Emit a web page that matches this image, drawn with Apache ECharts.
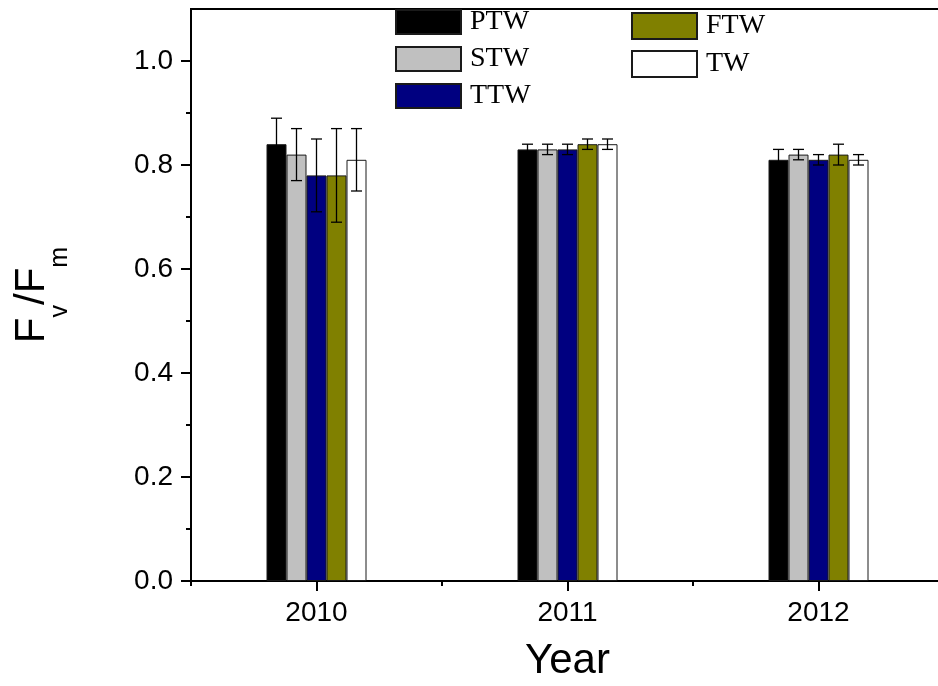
<!DOCTYPE html>
<html><head><meta charset="utf-8">
<script src="https://cdn.jsdelivr.net/npm/echarts@6/dist/echarts.min.js"></script>
<style>html,body{margin:0;padding:0;background:#fff}#c{width:938px;height:686px}</style>
</head><body><div id="c"></div>
<script>
// ---- data ----
const years = ['2010', '2011', '2012'];
const seriesNames = ['PTW', 'STW', 'TTW', 'FTW', 'TW'];
const PTW = [0.84, 0.83, 0.81];
const STW = [0.82, 0.83, 0.82];
const TTW = [0.78, 0.83, 0.81];
const FTW = [0.78, 0.84, 0.82];
const TW  = [0.81, 0.84, 0.81];
const PTW_err = [0.05, 0.01, 0.02];
const STW_err = [0.05, 0.01, 0.01];
const TTW_err = [0.07, 0.01, 0.01];
const FTW_err = [0.09, 0.01, 0.02];
const TW_err  = [0.06, 0.01, 0.01];
const yMajorTicks = [0, 0.2, 0.4, 0.6, 0.8, 1.0];
const yMinorTicks = [0.1, 0.3, 0.5, 0.7, 0.9];

// ---- styling ----
const colors = ['#000000', '#C0C0C0', '#000080', '#808000', '#FFFFFF'];
const values = [PTW, STW, TTW, FTW, TW];
const errors = [PTW_err, STW_err, TTW_err, FTW_err, TW_err];
const yearIndex = years.map((y, i) => i);
const BAR_W = 20;
const AX = '#000';
const SANS = '"Liberation Sans", Arial, sans-serif';
const SERIF = '"Liberation Serif", "Times New Roman", serif';

const chart = echarts.init(document.getElementById('c'), null, {renderer: 'canvas'});

const barSeries = seriesNames.map((name, i) => ({
  name: name,
  type: 'bar',
  xAxisIndex: 0,
  yAxisIndex: 0,
  barWidth: BAR_W,
  barGap: '0%',
  data: values[i],
  itemStyle: {color: colors[i], borderColor: '#1a1a1a', borderWidth: 1},
  emphasis: {disabled: true},
  z: 2
}));

const errData = [];
seriesNames.forEach((n, s) => {
  years.forEach((y, c) => errData.push([c, values[s][c], errors[s][c], s]));
});

const errSeries = {
  type: 'custom',
  xAxisIndex: 0,
  yAxisIndex: 0,
  data: errData,
  z: 5,
  silent: true,
  renderItem: function (params, api) {
    const c = api.value(0), v = api.value(1), e = api.value(2), s = api.value(3);
    const hi = api.coord([c, v + e]);
    const lo = api.coord([c, v - e]);
    const x = hi[0] + (s - 2) * BAR_W;
    const cap = 5.5;
    const st = {stroke: '#000', lineWidth: 1.3};
    return {
      type: 'group',
      children: [
        {type: 'line', shape: {x1: x, y1: hi[1], x2: x, y2: lo[1]}, style: st},
        {type: 'line', shape: {x1: x - cap, y1: hi[1], x2: x + cap, y2: hi[1]}, style: st},
        {type: 'line', shape: {x1: x - cap, y1: lo[1], x2: x + cap, y2: lo[1]}, style: st}
      ]
    };
  }
};

const option = {
  backgroundColor: '#fff',
  animation: false,
  grid: {left: 191, top: 9, width: 753, bottom: 105, outerBoundsMode: 'none', containLabel: false,
    show: true, borderColor: AX, borderWidth: 2, backgroundColor: 'transparent'},
  legend: [
    {
      data: ['PTW', 'STW', 'TTW'],
      orient: 'vertical', left: 395, top: 8, padding: 0,
      icon: 'rect',
      itemWidth: 65, itemHeight: 24, itemGap: 9,
      selectedMode: false,
      textStyle: {fontFamily: SERIF, fontSize: 28, color: '#000', lineHeight: 24, padding: [0, 0, 0, 4]}
    },
    {
      data: ['FTW', 'TW'],
      orient: 'vertical', left: 631, top: 12, padding: 0,
      icon: 'rect',
      itemWidth: 65, itemHeight: 26, itemGap: 10,
      selectedMode: false,
      textStyle: {fontFamily: SERIF, fontSize: 28, color: '#000', lineHeight: 26, padding: [0, 0, 0, 4]}
    }
  ],
  xAxis: [
    {
      type: 'category', data: years, position: 'bottom',
      name: 'Year', nameLocation: 'middle', nameGap: 59,
      nameTextStyle: {fontFamily: SANS, fontSize: 42, color: '#000'},
      axisLine: {show: true, onZero: false, lineStyle: {color: AX, width: 2}},
      axisTick: {show: true, alignWithLabel: false, length: 5, lineStyle: {color: AX, width: 2}},
      axisLabel: {fontFamily: SANS, fontSize: 28, color: '#000', margin: 18},
      splitLine: {show: false}
    },
    {
      // major ticks at the category centres
      type: 'value', min: -0.5, max: yearIndex.length - 0.5, position: 'bottom',
      axisLine: {show: false, onZero: false},
      axisTick: {show: true, length: 10, customValues: yearIndex, lineStyle: {color: AX, width: 2}},
      axisLabel: {show: false},
      splitLine: {show: false}
    }
  ],
  yAxis: [
    {
      type: 'value', min: 0, max: 1.1, position: 'left',
      name: '{a|F}{b|v}{a|/F}{b|m}', nameLocation: 'middle', nameGap: 82, nameRotate: 90,
      nameTextStyle: {
        color: '#000',
        rich: {
          a: {fontFamily: SANS, fontSize: 42, lineHeight: 42, verticalAlign: 'top', color: '#000'},
          b: {fontFamily: SANS, fontSize: 25, lineHeight: 98, color: '#000'}
        }
      },
      axisLine: {show: true, onZero: false, lineStyle: {color: AX, width: 2}},
      axisTick: {show: true, length: 10, customValues: yMajorTicks, lineStyle: {color: AX, width: 2}},
      axisLabel: {fontFamily: SANS, fontSize: 28, color: '#000', margin: 18, customValues: yMajorTicks,
        formatter: v => v.toFixed(1)},
      splitLine: {show: false}
    },
    {
      type: 'value', min: 0, max: 1.1, position: 'left',
      axisLine: {show: false, onZero: false},
      axisTick: {show: true, length: 5, customValues: yMinorTicks, lineStyle: {color: AX, width: 2}},
      axisLabel: {show: false},
      splitLine: {show: false}
    }
  ],
  series: barSeries.concat([errSeries])
};

chart.setOption(option);
</script>
</body></html>
